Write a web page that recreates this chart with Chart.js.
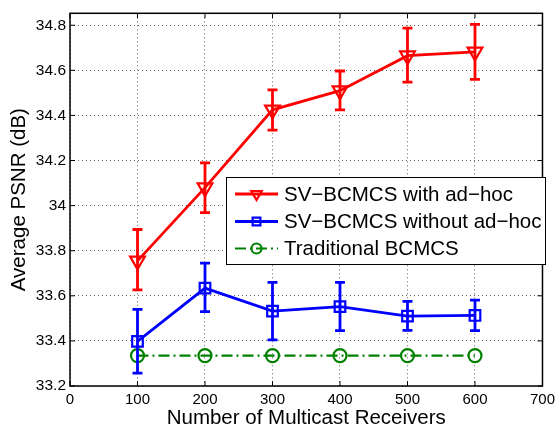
<!DOCTYPE html>
<html>
<head>
<meta charset="utf-8">
<script src="https://cdn.jsdelivr.net/npm/chart.js@4.4.1/dist/chart.umd.min.js"></script>
<style>
  html, body { margin: 0; padding: 0; background: #fff; }
</style>
</head>
<body>
<canvas id="psnrChart" width="560" height="431"></canvas>
<script>
// === DATA ===
const receivers = [100, 200, 300, 400, 500, 600];

const withAdhoc = [33.755, 34.08, 34.425, 34.51, 34.665, 34.682];
const withAdhocLow = [33.626, 33.969, 34.335, 34.425, 34.548, 34.56];
const withAdhocHigh = [33.894, 34.19, 34.513, 34.597, 34.787, 34.804];

const withoutAdhoc = [33.398, 33.634, 33.532, 33.552, 33.51, 33.513];
const withoutAdhocLow = [33.257, 33.53, 33.405, 33.446, 33.447, 33.446];
const withoutAdhocHigh = [33.54, 33.745, 33.66, 33.66, 33.575, 33.581];

const traditional = [33.335, 33.335, 33.335, 33.335, 33.335, 33.335];

const xTicks = [0, 100, 200, 300, 400, 500, 600, 700];
const yTicks = [33.2, 33.4, 33.6, 33.8, 34, 34.2, 34.4, 34.6, 34.8];

const seriesLabels = [
  "SV\u2212BCMCS with ad\u2212hoc",
  "SV\u2212BCMCS without ad\u2212hoc",
  "Traditional BCMCS",
];

const FONT = "'Liberation Sans', Arial, Helvetica, sans-serif";

const toPoints = (ys) => receivers.map((x, i) => ({ x, y: ys[i] }));

// error bars per dataset index
const errorBars = {
  0: { low: withAdhocLow, high: withAdhocHigh },
  1: { low: withoutAdhocLow, high: withoutAdhocHigh },
};

// legend marker sizes (smaller than in the plot)
const legendRadius = [6, 5.5, 5];

// small marker drawer for the legend
function drawMarker(ctx, style, r, x, y) {
  ctx.beginPath();
  if (style === "triangle") {
    // pointing down
    for (let k = 0; k < 3; k++) {
      const a = Math.PI + (k * 2 * Math.PI) / 3;
      const px = x + Math.sin(a) * r;
      const py = y - Math.cos(a) * r;
      k === 0 ? ctx.moveTo(px, py) : ctx.lineTo(px, py);
    }
    ctx.closePath();
  } else if (style === "rect") {
    const s = Math.SQRT1_2 * r;
    ctx.rect(x - s, y - s, 2 * s, 2 * s);
  } else {
    ctx.arc(x, y, r, 0, Math.PI * 2);
  }
  ctx.stroke();
}

const matlabLook = {
  id: "matlabLook",
  afterDatasetsDraw(chart) {
    const { ctx } = chart;
    const xs = chart.scales.x;
    const ys = chart.scales.y;
    Object.keys(errorBars).forEach((idx) => {
      const ds = chart.data.datasets[idx];
      const eb = errorBars[idx];
      ctx.save();
      ctx.strokeStyle = ds.borderColor;
      ctx.lineWidth = 2.8;
      receivers.forEach((r, i) => {
        const px = xs.getPixelForValue(r);
        const pLow = ys.getPixelForValue(eb.low[i]);
        const pHigh = ys.getPixelForValue(eb.high[i]);
        ctx.beginPath();
        ctx.moveTo(px, pLow);
        ctx.lineTo(px, pHigh);
        ctx.moveTo(px - 5, pLow);
        ctx.lineTo(px + 5, pLow);
        ctx.moveTo(px - 5, pHigh);
        ctx.lineTo(px + 5, pHigh);
        ctx.stroke();
      });
      ctx.restore();
    });
  },
  afterDraw(chart) {
    const { ctx, chartArea: a } = chart;
    const xs = chart.scales.x;
    const ys = chart.scales.y;
    ctx.save();
    // frame
    ctx.strokeStyle = "#000";
    ctx.lineWidth = 1.5;
    ctx.strokeRect(a.left, a.top, a.right - a.left, a.bottom - a.top);
    // inward tick marks on all sides
    ctx.lineWidth = 1;
    ctx.beginPath();
    xTicks.forEach((v) => {
      const px = xs.getPixelForValue(v);
      ctx.moveTo(px, a.bottom);
      ctx.lineTo(px, a.bottom - 5);
      ctx.moveTo(px, a.top);
      ctx.lineTo(px, a.top + 5);
    });
    yTicks.forEach((v) => {
      const py = ys.getPixelForValue(v);
      ctx.moveTo(a.left, py);
      ctx.lineTo(a.left + 5, py);
      ctx.moveTo(a.right, py);
      ctx.lineTo(a.right - 5, py);
    });
    ctx.stroke();

    // legend box
    const box = { x: 226, y: 177, w: 319, h: 87 };
    ctx.fillStyle = "#fff";
    ctx.fillRect(box.x, box.y, box.w, box.h);
    ctx.lineWidth = 1;
    ctx.strokeStyle = "#000";
    ctx.strokeRect(box.x + 0.5, box.y + 0.5, box.w, box.h);
    const rows = [194, 221.5, 248.5];
    chart.data.datasets.forEach((ds, i) => {
      const y = rows[i];
      ctx.strokeStyle = ds.borderColor;
      ctx.lineWidth = ds.borderWidth;
      ctx.setLineDash(ds.borderDash || []);
      ctx.beginPath();
      ctx.moveTo(235, y);
      ctx.lineTo(278, y);
      ctx.stroke();
      ctx.setLineDash([]);
      ctx.lineWidth = ds.pointBorderWidth;
      drawMarker(ctx, ds.pointStyle, legendRadius[i], 256.5, y);
      ctx.fillStyle = "#000";
      ctx.font = "20.5px " + FONT;
      ctx.textBaseline = "middle";
      ctx.textAlign = "left";
      ctx.fillText(seriesLabels[i], 284, y + 1);
    });
    ctx.restore();
  },
};

new Chart(document.getElementById("psnrChart"), {
  type: "line",
  data: {
    datasets: [
      {
        label: seriesLabels[0],
        data: toPoints(withAdhoc),
        borderColor: "#ff0000",
        borderWidth: 2.8,
        pointStyle: "triangle",
        rotation: 180,
        pointRadius: 8.5,
        pointBorderWidth: 2.2,
        pointBackgroundColor: "rgba(0,0,0,0)",
        pointBorderColor: "#ff0000",
      },
      {
        label: seriesLabels[1],
        data: toPoints(withoutAdhoc),
        borderColor: "#0000ff",
        borderWidth: 2.8,
        pointStyle: "rect",
        pointRadius: 7.5,
        pointBorderWidth: 2.2,
        pointBackgroundColor: "rgba(0,0,0,0)",
        pointBorderColor: "#0000ff",
      },
      {
        label: seriesLabels[2],
        data: toPoints(traditional),
        borderColor: "#008000",
        borderWidth: 2.2,
        borderDash: [11, 4, 2, 4],
        pointStyle: "circle",
        pointRadius: 6.5,
        pointBorderWidth: 2.2,
        pointBackgroundColor: "rgba(0,0,0,0)",
        pointBorderColor: "#008000",
      },
    ],
  },
  options: {
    responsive: false,
    animation: false,
    layout: { padding: { top: 10, right: 12, left: 0, bottom: 0 } },
    plugins: {
      legend: { display: false },
      tooltip: { enabled: false },
    },
    scales: {
      x: {
        type: "linear",
        min: 0,
        max: 700,
        afterFit: (s) => { s.height = 45; },
        afterBuildTicks: (s) => { s.ticks = xTicks.map((v) => ({ value: v })); },
        grid: { color: "#666", drawTicks: false, lineWidth: 1 },
        border: { display: false, dash: [1, 3] },
        ticks: { color: "#000", font: { family: FONT, size: 15 }, padding: 5, maxRotation: 0 },
        title: {
          display: true,
          text: "Number of Multicast Receivers",
          color: "#000",
          font: { family: FONT, size: 20.5 },
          padding: { top: 0, bottom: 0 },
        },
      },
      y: {
        type: "linear",
        min: 33.2,
        max: 34.853,
        afterFit: (s) => { s.width = 70; },
        afterBuildTicks: (s) => { s.ticks = yTicks.map((v) => ({ value: v })); },
        grid: { color: "#666", drawTicks: false, lineWidth: 1 },
        border: { display: false, dash: [1, 3] },
        ticks: {
          color: "#000",
          font: { family: FONT, size: 15.5 },
          padding: 4,
          callback: (v) => String(Number(v.toFixed(1))),
        },
        title: {
          display: true,
          text: "Average PSNR (dB)",
          color: "#000",
          font: { family: FONT, size: 20.5 },
          padding: { top: 7, bottom: 0 },
        },
      },
    },
  },
  plugins: [matlabLook],
});
</script>
</body>
</html>
